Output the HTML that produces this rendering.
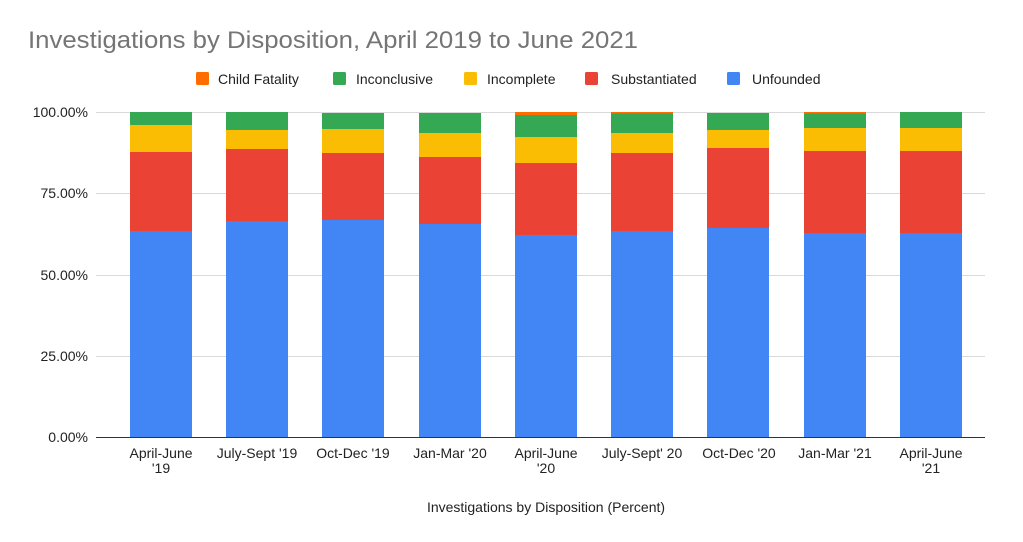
<!DOCTYPE html>
<html><head><meta charset="utf-8"><style>body{margin:0;background:#fff}svg{display:block}</style></head><body>
<svg width="1023" height="542" xmlns="http://www.w3.org/2000/svg" font-family="Liberation Sans, Arial, sans-serif">
<rect width="1023" height="542" fill="#fff"/>
<text x="28" y="48" font-size="24.5" fill="#757575" textLength="610" lengthAdjust="spacingAndGlyphs">Investigations by Disposition, April 2019 to June 2021</text>
<g font-size="14" fill="#222">
<rect x="196" y="72" width="13" height="13" rx="1.5" fill="#ff6d01"/><text x="218" y="84">Child Fatality</text>
<rect x="333" y="72" width="13" height="13" rx="1.5" fill="#34a853"/><text x="356" y="84">Inconclusive</text>
<rect x="464" y="72" width="13" height="13" rx="1.5" fill="#fbbc04"/><text x="487" y="84">Incomplete</text>
<rect x="585" y="72" width="13" height="13" rx="1.5" fill="#ea4335"/><text x="611" y="84">Substantiated</text>
<rect x="727" y="72" width="13" height="13" rx="1.5" fill="#4285f4"/><text x="752" y="84">Unfounded</text>
</g>
<g stroke="#d9d9d9" stroke-width="1">
<line x1="96" x2="985" y1="112.5" y2="112.5"/>
<line x1="96" x2="985" y1="193.5" y2="193.5"/>
<line x1="96" x2="985" y1="275.5" y2="275.5"/>
<line x1="96" x2="985" y1="356.5" y2="356.5"/>
</g>
<g font-size="14" fill="#222" text-anchor="end">
<text x="88" y="117">100.00%</text>
<text x="88" y="198">75.00%</text>
<text x="88" y="280">50.00%</text>
<text x="88" y="361">25.00%</text>
<text x="88" y="442">0.00%</text>
</g>
<g id="bars"></g>
<line x1="96" x2="985" y1="437.5" y2="437.5" stroke="#333" stroke-width="1"/>
<g font-size="14" fill="#222" text-anchor="middle">
<text x="161" y="458">April-June</text><text x="161" y="473">'19</text>
<text x="257" y="458">July-Sept '19</text>
<text x="353" y="458">Oct-Dec '19</text>
<text x="450" y="458">Jan-Mar '20</text>
<text x="546" y="458">April-June</text><text x="546" y="473">'20</text>
<text x="642" y="458">July-Sept' 20</text>
<text x="739" y="458">Oct-Dec '20</text>
<text x="835" y="458">Jan-Mar '21</text>
<text x="931" y="458">April-June</text><text x="931" y="473">'21</text>
<text x="546" y="512">Investigations by Disposition (Percent)</text>
</g>
<g>
<!-- bar1 x=130 -->
<rect x="130" y="231" width="62" height="206" fill="#4285f4"/><rect x="130" y="152" width="62" height="79" fill="#ea4335"/><rect x="130" y="125" width="62" height="27" fill="#fbbc04"/><rect x="130" y="112" width="62" height="13" fill="#34a853"/>
<rect x="226" y="221" width="62" height="216" fill="#4285f4"/><rect x="226" y="149" width="62" height="72" fill="#ea4335"/><rect x="226" y="130" width="62" height="19" fill="#fbbc04"/><rect x="226" y="112" width="62" height="18" fill="#34a853"/>
<rect x="322" y="220" width="62" height="217" fill="#4285f4"/><rect x="322" y="153" width="62" height="67" fill="#ea4335"/><rect x="322" y="129" width="62" height="24" fill="#fbbc04"/><rect x="322" y="113" width="62" height="16" fill="#34a853"/>
<rect x="419" y="224" width="62" height="213" fill="#4285f4"/><rect x="419" y="157" width="62" height="67" fill="#ea4335"/><rect x="419" y="133" width="62" height="24" fill="#fbbc04"/><rect x="419" y="113" width="62" height="20" fill="#34a853"/>
<rect x="515" y="235" width="62" height="202" fill="#4285f4"/><rect x="515" y="163" width="62" height="72" fill="#ea4335"/><rect x="515" y="137" width="62" height="26" fill="#fbbc04"/><rect x="515" y="115" width="62" height="22" fill="#34a853"/><rect x="515" y="112" width="62" height="3" fill="#ff6d01"/>
<rect x="611" y="231" width="62" height="206" fill="#4285f4"/><rect x="611" y="153" width="62" height="78" fill="#ea4335"/><rect x="611" y="133" width="62" height="20" fill="#fbbc04"/><rect x="611" y="113" width="62" height="20" fill="#34a853"/><rect x="611" y="112" width="62" height="1.5" fill="#ff6d01"/>
<rect x="707" y="228" width="62" height="209" fill="#4285f4"/><rect x="707" y="148" width="62" height="80" fill="#ea4335"/><rect x="707" y="130" width="62" height="18" fill="#fbbc04"/><rect x="707" y="113" width="62" height="17" fill="#34a853"/>
<rect x="804" y="233" width="62" height="204" fill="#4285f4"/><rect x="804" y="151" width="62" height="82" fill="#ea4335"/><rect x="804" y="128" width="62" height="23" fill="#fbbc04"/><rect x="804" y="113" width="62" height="15" fill="#34a853"/><rect x="804" y="112" width="62" height="1.5" fill="#ff6d01"/>
<rect x="900" y="233" width="62" height="204" fill="#4285f4"/><rect x="900" y="151" width="62" height="82" fill="#ea4335"/><rect x="900" y="128" width="62" height="23" fill="#fbbc04"/><rect x="900" y="112" width="62" height="16" fill="#34a853"/>
</g>
</svg>
</body></html>
